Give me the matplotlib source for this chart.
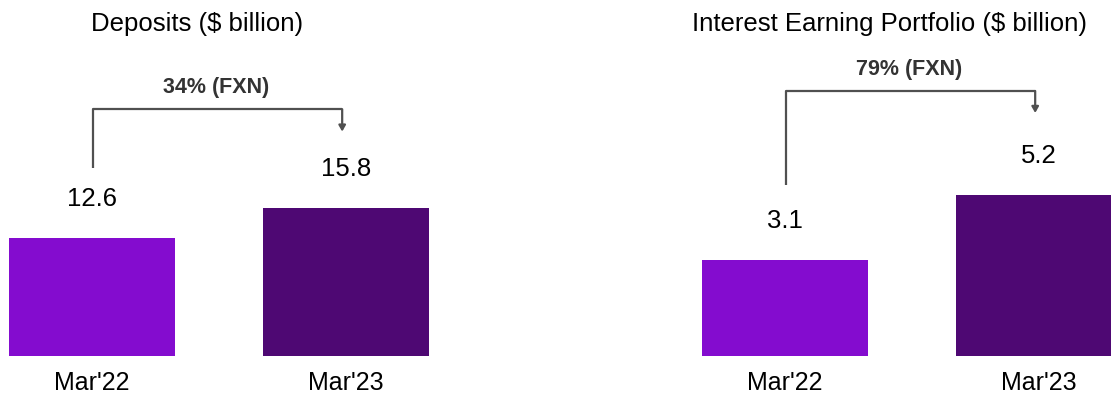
import matplotlib
matplotlib.use('Agg')
import matplotlib.pyplot as plt

plt.rcParams['font.family'] = ['Liberation Sans', 'DejaVu Sans']

categories = ["Mar'22", "Mar'23"]
deposits = [12.6, 15.8]
portfolio = [3.1, 5.2]
titles = ['Deposits ($ billion)', 'Interest Earning Portfolio ($ billion)']
growth = ['34% (FXN)', '79% (FXN)']

bar_colors = ['#840CCF', '#4E0873']
line_color = '#505050'

W, H = 1111, 394


def draw_panel(ax, values, title, growth_label, ymax, bracket):
    x = [0, 1]
    ax.bar(x, values, width=0.65, color=bar_colors)
    ax.set_xlim(-0.362, (ax_right_px[id(ax)] - ax_center_px[id(ax)]) / 254)
    ax.set_ylim(0, ymax)
    for xi, v in zip(x, values):
        ax.annotate(f'{v}', (xi, v), xytext=(0, 28), textcoords='offset points',
                    ha='center', va='center', fontsize=18.5)
    ax.set_xticks(x)
    ax.set_xticklabels(categories, fontsize=18)
    ax.tick_params(axis='x', length=0, pad=11)
    ax.set_yticks([])
    for s in ax.spines.values():
        s.set_visible(False)
    ax.text(0.413, ymax * 0.9326, title, ha='center', va='center', fontsize=18.5)

    y_low, y_top, y_tip, y_text = bracket
    ax.plot([0.005, 0.005, 0.985, 0.985], [y_low, y_top, y_top, y_top],
            color=line_color, lw=1.6, clip_on=False, solid_capstyle='butt')
    ax.annotate('', xy=(0.985, y_tip), xytext=(0.985, y_top),
                arrowprops=dict(arrowstyle='-|>,head_length=0.35,head_width=0.2',
                                color=line_color, lw=1.6, shrinkA=0, shrinkB=0))
    ax.text(0.49, y_text, growth_label, ha='center', va='center',
            fontsize=15.5, fontweight='bold', color='#333333')


fig = plt.figure(figsize=(W / 100, H / 100), dpi=100)
bottom = (H - 356) / H
height = 356 / H

ax1 = fig.add_axes([0, bottom, 450 / W, height])
ax2 = fig.add_axes([693 / W, bottom, (W - 693) / W, height])
ax_center_px = {id(ax1): 92, id(ax2): 785}
ax_right_px = {id(ax1): 450, id(ax2): W}

draw_panel(ax1, deposits, titles[0], growth[0], 356 / 9.35,
           (20.1, 26.4, 24.0, 28.7))
draw_panel(ax2, portfolio, titles[1], growth[1], 356 / 31.0,
           (5.52, 8.55, 7.84, 9.23))

fig.savefig('out.png', dpi=100)
